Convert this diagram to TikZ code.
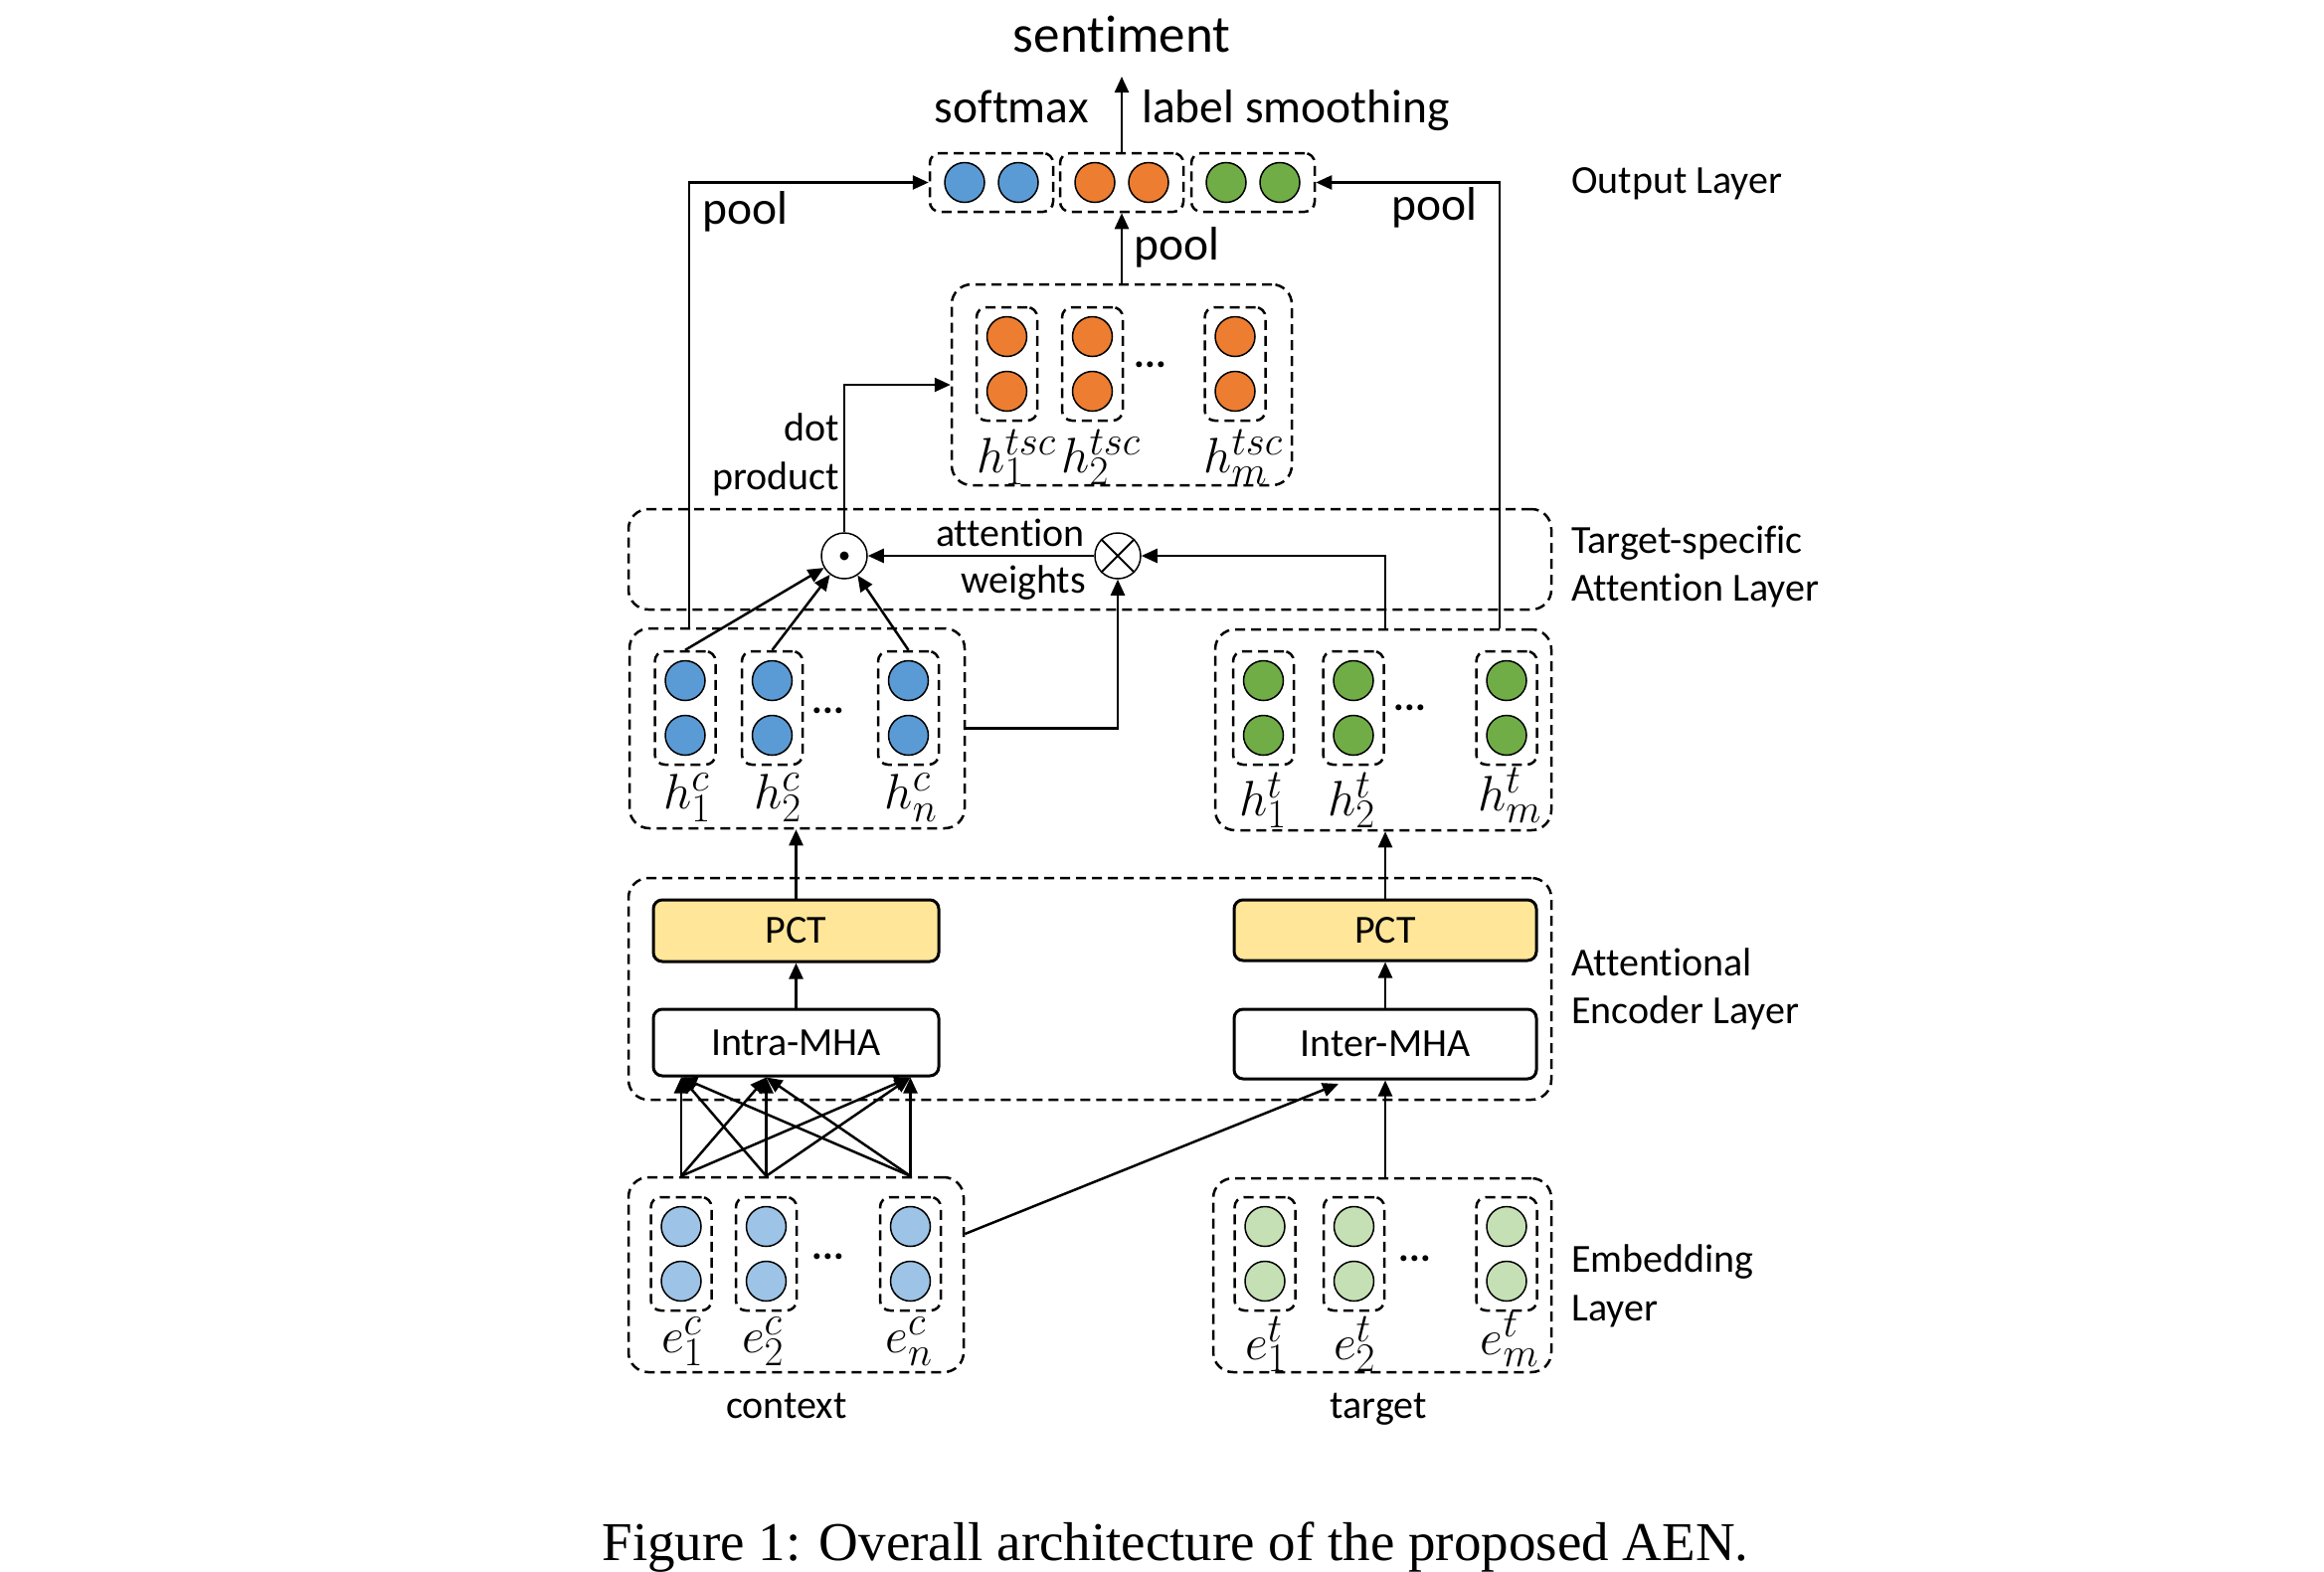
\RequirePackage{fix-cm}
\documentclass[tikz,border=0pt]{standalone}
\usepackage{fontspec}
\setmainfont{Carlito}[Ligatures={NoCommon}]
\newfontfamily\capfont{Liberation Serif}
\usetikzlibrary{arrows.meta}
\DeclareMathSizes{50}{50}{41}{30}
\definecolor{cblue}{HTML}{5B9BD5}
\definecolor{corange}{HTML}{ED7D31}
\definecolor{cgreen}{HTML}{70AD47}
\definecolor{clblue}{HTML}{9DC3E6}
\definecolor{clgreen}{HTML}{C5E0B4}
\definecolor{cyellow}{HTML}{FFE699}
\newcommand\fA{\fontsize{40}{48}\selectfont}
\newcommand\fB{\fontsize{47.5}{56}\selectfont}
\newcommand\fS{\fontsize{53}{64}\selectfont}
\newcommand\fL{\fontsize{40}{48}\selectfont}
\newcommand\fM{\fontsize{50}{60}\selectfont}
\newcommand\fC{\fontsize{55}{66}\selectfont}
\begin{document}
\begin{tikzpicture}[x=1pt,y=-1pt,
  grp/.style={draw, line width=2.5pt, dash pattern=on 10pt off 6pt, rounded corners=20pt, inner sep=0pt},
  colbox/.style={draw, line width=2.5pt, dash pattern=on 10pt off 6pt, rounded corners=10pt, inner sep=0pt, minimum width=61pt, minimum height=114pt},
  obox/.style={colbox, minimum width=124pt, minimum height=59pt},
  ball/.style={circle, draw, line width=1.5pt, minimum size=40pt, inner sep=0pt},
  arr/.style={line width=2.5pt, -{Triangle[length=16pt,width=14pt]}},
  blk/.style={draw, line width=3pt, rounded corners=9pt, inner sep=0pt, font=\fA},
  op/.style={circle, draw, line width=1.5pt, minimum size=46pt, inner sep=0pt},
  lbl/.style={inner sep=0pt},
  mlbl/.style={inner sep=0pt, font=\fM},
  dots/.style={inner sep=0pt, font=\fA\bfseries, anchor=base}
]
\useasboundingbox (0,0) rectangle (2337,1580);

% ---- group boxes
\node[grp, minimum width=337pt, minimum height=201pt] (hcg) at (801.5,732.5) {};
\node[grp, minimum width=338pt, minimum height=202pt] (htg) at (1391,734) {};
\node[grp, minimum width=342pt, minimum height=202pt] (tscg) at (1128,387) {};
\node[grp, minimum width=337pt, minimum height=196pt] (ecg) at (800.5,1282) {};
\node[grp, minimum width=340pt, minimum height=195pt] (etg) at (1390,1282.5) {};
\node[grp, minimum width=928pt, minimum height=101pt] (attg) at (1096,562.5) {};
\node[grp, minimum width=928pt, minimum height=223pt] (encg) at (1096,994.5) {};

% ---- columns
\foreach \n/\x in {hc1/689, hc2/776.5, hc3/913.5} {
  \node[colbox] (\n) at (\x,712) {};
  \node[ball, fill=cblue] (\n a) at (\x,684.5) {};
  \node[ball, fill=cblue] (\n b) at (\x,739.5) {};
}
\foreach \n/\x in {ht1/1270.5, ht2/1361, ht3/1515} {
  \node[colbox] (\n) at (\x,712) {};
  \node[ball, fill=cgreen] (\n a) at (\x,684.5) {};
  \node[ball, fill=cgreen] (\n b) at (\x,739.5) {};
}
\foreach \n/\x in {ts1/1012.5, ts2/1098.5, ts3/1242} {
  \node[colbox] (\n) at (\x,366) {};
  \node[ball, fill=corange] (\n a) at (\x,338.5) {};
  \node[ball, fill=corange] (\n b) at (\x,393.5) {};
}
\foreach \n/\x in {ec1/685, ec2/770.5, ec3/915.5} {
  \node[colbox] (\n) at (\x,1261) {};
  \node[ball, fill=clblue] (\n a) at (\x,1233.5) {};
  \node[ball, fill=clblue] (\n b) at (\x,1288.5) {};
}
\foreach \n/\x in {et1/1272, et2/1361.5, et3/1515} {
  \node[colbox] (\n) at (\x,1261) {};
  \node[ball, fill=clgreen] (\n a) at (\x,1233.5) {};
  \node[ball, fill=clgreen] (\n b) at (\x,1288.5) {};
}

% ---- output layer
\node[obox] (ob) at (997,183.5) {};
\node[obox] (oor) at (1128,183.5) {};
\node[obox] (og) at (1260,183.5) {};
\node[ball, fill=cblue] (ob1) at (970,183.5) {};
\node[ball, fill=cblue] (ob2) at (1024,183.5) {};
\node[ball, fill=corange] (oo1) at (1101,183.5) {};
\node[ball, fill=corange] (oo2) at (1155,183.5) {};
\node[ball, fill=cgreen] (og1) at (1233,183.5) {};
\node[ball, fill=cgreen] (og2) at (1287,183.5) {};

% ---- dots
\node[dots] (dhc) at (833,717) {...};
\node[dots] (dht) at (1418,714) {...};
\node[dots] (dts) at (1157,369) {...};
\node[dots] (dec) at (833,1266) {...};
\node[dots] (det) at (1423,1268) {...};

% ---- math labels
\node[mlbl] (lhc1) at (691,802) {$h_1^c$};
\node[mlbl] (lhc2) at (782,802) {$h_2^c$};
\node[mlbl] (lhc3) at (916,802) {$h_n^c$};
\node[mlbl] (lht1) at (1270,805) {$h_1^t$};
\node[mlbl] (lht2) at (1359,805) {$h_2^t$};
\node[mlbl] (lht3) at (1518,800) {$h_m^t$};
\node[mlbl] (lts1) at (1022,460) {$h_1^{tsc}$};
\node[mlbl] (lts2) at (1107,460) {$h_2^{tsc}$};
\node[mlbl] (lts3) at (1250,460) {$h_m^{tsc}$};
\node[mlbl] (lec1) at (686,1349) {$e_1^c$};
\node[mlbl] (lec2) at (767,1349) {$e_2^c$};
\node[mlbl] (lec3) at (914,1349) {$e_n^c$};
\node[mlbl] (let1) at (1273,1352) {$e_1^t$};
\node[mlbl] (let2) at (1362,1352) {$e_2^t$};
\node[mlbl] (let3) at (1518,1347) {$e_m^t$};

% ---- encoder blocks
\node[blk, fill=cyellow, minimum width=287pt, minimum height=62pt] (pctl) at (800.5,936) {PCT};
\node[blk, fill=cyellow, minimum width=304pt, minimum height=61pt] (pctr) at (1393,935.5) {PCT};
\node[blk, fill=white, minimum width=287pt, minimum height=67pt] (intra) at (800.5,1048.5) {Intra-MHA};
\node[blk, fill=white, minimum width=304pt, minimum height=70pt] (inter) at (1393,1050) {Inter-MHA};

% ---- operators
\node[op] (odot) at (849,559) {};
\fill (odot.center) circle (4.5);
\node[op] (otimes) at (1124,559) {};
\draw[line width=2pt] (otimes.45) -- (otimes.225) (otimes.135) -- (otimes.315);

% ---- text labels
\node[lbl, font=\fS, anchor=base] (sent) at (1128,52) {sentiment};
\node[lbl, font=\fB, anchor=base east] (softmax) at (1095,123) {softmax};
\node[lbl, font=\fB, anchor=base west] (lsm) at (1148,123) {label smoothing};
\node[lbl, font=\fB, anchor=base west] (pool1) at (706,225) {pool};
\node[lbl, font=\fB, anchor=base west] (pool2) at (1140,261) {pool};
\node[lbl, font=\fB, anchor=base east] (pool3) at (1486,221) {pool};
\node[lbl, font=\fA, anchor=base east] (dotl) at (844,443) {dot};
\node[lbl, font=\fA, anchor=base east] (prodl) at (844,492) {product};
\node[lbl, font=\fA, anchor=base] (attl) at (1016,549) {attention};
\node[lbl, font=\fA, anchor=base] (wtsl) at (1029,596) {weights};
\node[lbl, font=\fA, anchor=base] (ctx) at (791,1426) {context};
\node[lbl, font=\fA, anchor=base] (tgt) at (1386,1426) {target};
\node[lbl, font=\fL, anchor=base west] (lay1) at (1580,194) {Output Layer};
\node[lbl, font=\fL, anchor=base west] (lay2a) at (1580,556) {Target-specific};
\node[lbl, font=\fL, anchor=base west] (lay2b) at (1580,604) {Attention Layer};
\node[lbl, font=\fL, anchor=base west] (lay3a) at (1580,981) {Attentional};
\node[lbl, font=\fL, anchor=base west] (lay3b) at (1580,1029) {Encoder Layer};
\node[lbl, font=\fL, anchor=base west] (lay4a) at (1580,1279) {Embedding};
\node[lbl, font=\fL, anchor=base west] (lay4b) at (1580,1328) {Layer};
\node[lbl, font=\capfont\fC, anchor=base] (cap) at (1182,1569) {Figure 1: Overall architecture of the proposed AEN.};

% ---- connectors
\foreach \s in {ec1,ec2,ec3}
  \foreach \t in {ec1,ec2,ec3}
    \draw[arr] (\s.north |- ecg.north) -- (\t.north |- intra.south);
\coordinate (ecout) at (ecg.east |- 0,1241);
\coordinate (interin) at (1346,1090);
\draw[arr] (ecout) -- (interin);
\draw[arr] (inter.south |- etg.north) -- (inter.south);
\draw[arr] (intra) -- (pctl);
\draw[arr] (inter) -- (pctr);
\draw[arr] (pctl.north) -- (pctl.north |- hcg.south);
\draw[arr] (pctr.north) -- (pctr.north |- htg.south);

\foreach \c in {hc1,hc2,hc3}
  \draw[arr] (\c.north) -- (odot);
\draw[arr] (otimes) -- (odot);
\draw[arr] (hcg.east) -| (otimes.south);
\draw[arr] (ht2.east |- htg.north) |- (otimes.east);
\draw[arr] (odot.north) |- (tscg.west);
\draw[arr] (tscg.north) -- (oor.south);
\coordinate (sentin) at (1128,77);
\draw[arr] (oor.north) -- (sentin);
\path (hc1.north |- hcg.north) ++(4,0) coordinate (lp);
\draw[arr] (lp) |- (ob.west);
\path (ht3.north |- htg.north) ++(-7,0) coordinate (rp);
\draw[arr] (rp) |- (og.east);
\end{tikzpicture}
\end{document}
